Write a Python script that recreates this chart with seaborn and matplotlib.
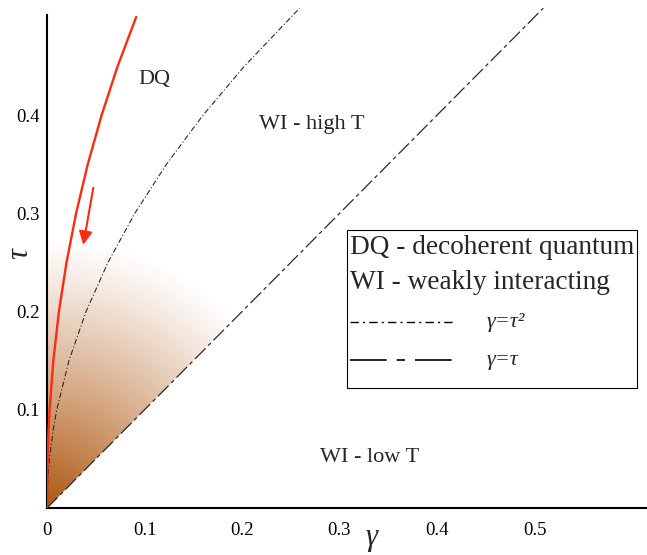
import numpy as np
import matplotlib
matplotlib.use("Agg")
import matplotlib.pyplot as plt
import seaborn as sns
from matplotlib.lines import Line2D
from matplotlib.patches import Rectangle

# Boundary gamma = tau^2
tau_sq = [0.0, 0.01, 0.02, 0.03, 0.05, 0.08, 0.10, 0.15, 0.20, 0.25, 0.30, 0.35, 0.40, 0.45, 0.509]
gamma_sq = [0.0, 0.0001, 0.0004, 0.0009, 0.0025, 0.0064, 0.0100, 0.0225, 0.0400, 0.0625,
            0.0900, 0.1225, 0.1600, 0.2025, 0.2591]

# Boundary gamma = tau
tau_lin = [0.0, 0.509]
gamma_lin = [0.0, 0.509]

# Decoherent-quantum crossover curve (red)
tau_dq = [0.0, 0.025, 0.05, 0.075, 0.10, 0.15, 0.20, 0.25, 0.30, 0.35, 0.40, 0.45, 0.50]
gamma_dq = [0.0, 0.00013, 0.0006, 0.0014, 0.0027, 0.0065, 0.0122, 0.0200, 0.0298, 0.0418,
            0.0560, 0.0725, 0.0915]

# Arrow along the red curve
arrow_start = (0.0475, 0.326)
arrow_tip = (0.0372, 0.268)

x_ticks = [0.0, 0.1, 0.2, 0.3, 0.4, 0.5, 0.6]
x_tick_labels = ["0", "0.1", "0.2", "0.3", "0.4", "0.5", ""]
y_ticks = [0.1, 0.2, 0.3, 0.4, 0.5]
y_tick_labels = ["0.1", "0.2", "0.3", "0.4", ""]

region_labels = ["DQ", "WI - high T", "WI - low T"]
region_pos = [(0.110, 0.436), (0.272, 0.391), (0.331, 0.051)]

legend_text = ["DQ - decoherent quantum", "WI - weakly interacting"]
legend_curves = ["γ=τ²", "γ=τ"]

shade_radius = 0.275
shade_rgb = (0.68, 0.34, 0.06)

sns.set_style("white")
plt.rcParams["font.family"] = ["Liberation Serif", "DejaVu Serif"]

W, H = 647, 555
fig = plt.figure(figsize=(W / 100, H / 100), dpi=100)
ax = fig.add_axes([47 / W, 47 / H, 600 / W, 500 / H])

# Radial brown shading between the tau axis and gamma = tau
n = 600
g = np.linspace(0, shade_radius, n)
G, T = np.meshgrid(g, g)
r = np.hypot(G, T)
alpha = np.clip(1 - r / shade_radius, 0, 1) ** 1.15
alpha[G > T] = 0
rgba = np.zeros((n, n, 4))
rgba[..., 0], rgba[..., 1], rgba[..., 2] = shade_rgb
rgba[..., 3] = alpha
ax.imshow(rgba, extent=[0, shade_radius, 0, shade_radius], origin="lower",
          aspect="auto", interpolation="bilinear", zorder=0)

sns.lineplot(x=gamma_sq, y=tau_sq, sort=False, estimator=None, ax=ax,
             color="#2a2a2a", linewidth=0.8, linestyle=(0, (5, 2, 1, 2)), zorder=2)
sns.lineplot(x=gamma_lin, y=tau_lin, sort=False, estimator=None, ax=ax,
             color="#2a2a2a", linewidth=0.9, linestyle=(0, (12, 3, 3, 3)), zorder=2)
sns.lineplot(x=gamma_dq, y=tau_dq, sort=False, estimator=None, ax=ax,
             color="#ff2a12", linewidth=1.7, zorder=3)

ax.annotate("", xy=arrow_tip, xytext=arrow_start,
            arrowprops=dict(arrowstyle="-|>", color="#ff2a12", lw=1.5,
                            mutation_scale=20, shrinkA=0, shrinkB=0))

ax.set_xlim(0, 600 / 975)
ax.set_ylim(0, 500 / 982)

for s in ["top", "right"]:
    ax.spines[s].set_visible(False)
for s in ["left", "bottom"]:
    ax.spines[s].set_linewidth(1.5)
    ax.spines[s].set_color("black")
ax.spines["left"].set_bounds(0, 0.502)

ax.set_xticks(x_ticks)
ax.set_xticklabels(x_tick_labels)
ax.set_yticks(y_ticks)
ax.set_yticklabels(y_tick_labels)
ax.tick_params(axis="both", direction="inout", length=8, width=1.0,
               labelsize=13.5, colors="black")
ax.tick_params(axis="x", pad=6)
ax.tick_params(axis="y", pad=1)

ax.set_xlabel("γ", fontsize=22, style="italic", va="center", ha="center")
ax.xaxis.set_label_coords((371 - 47) / 600, -(538 - 508) / 500)
ax.set_ylabel("τ", fontsize=22, style="italic", rotation=90, va="center", ha="center")
ax.yaxis.set_label_coords((20 - 47) / 600, (508 - 254) / 500)

for lab, (px, py) in zip(region_labels, region_pos):
    ax.text(px, py, lab, fontsize=16, ha="center", va="center")

# Key box
def fx(px):
    return px / W

def fy(py):
    return 1 - py / H

fig.patches.append(Rectangle((fx(347), fy(388)), fx(637) - fx(347), fy(230) - fy(388),
                             transform=fig.transFigure, fill=True, facecolor="white",
                             edgecolor="black", linewidth=0.8, zorder=5))
fig.text(fx(350), fy(254), legend_text[0], fontsize=19.6, va="baseline", zorder=6)
fig.text(fx(350), fy(289), legend_text[1], fontsize=19.6, va="baseline", zorder=6)
fig.lines.append(Line2D([fx(350), fx(453)], [fy(322), fy(322)], transform=fig.transFigure,
                        color="black", linewidth=1.0, linestyle=(0, (6, 3, 1.5, 3)), zorder=6))
fig.lines.append(Line2D([fx(350), fx(455)], [fy(360), fy(360)], transform=fig.transFigure,
                        color="black", linewidth=1.2, dashes=(22, 6, 5, 6), zorder=6))
fig.text(fx(487), fy(327), legend_curves[0], fontsize=16, style="italic", va="baseline", zorder=6)
fig.text(fx(487), fy(365), legend_curves[1], fontsize=16, style="italic", va="baseline", zorder=6)

fig.savefig("out.png", dpi=100)
